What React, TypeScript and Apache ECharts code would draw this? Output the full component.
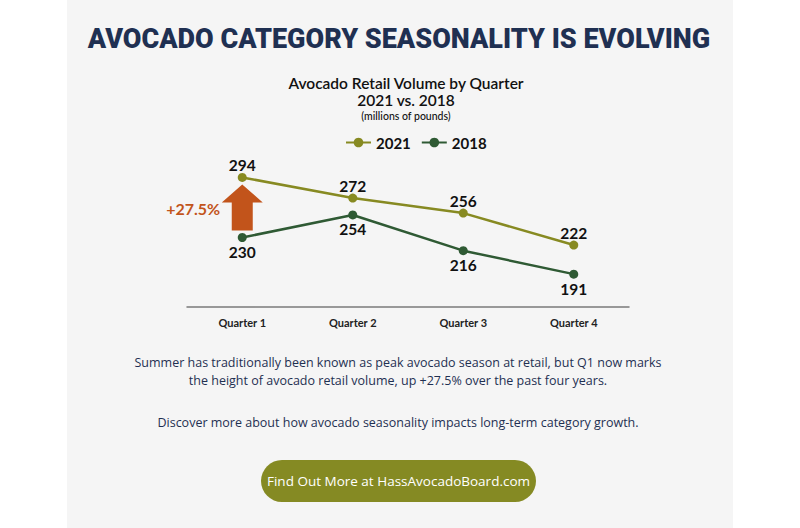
import React, { useEffect, useRef } from "react";
import * as echarts from "echarts";

const categories = ["Quarter 1", "Quarter 2", "Quarter 3", "Quarter 4"];
const values2021 = [294, 272, 256, 222];
const values2018 = [230, 254, 216, 191];
const labelPos2021 = ["top", "top", "top", "top"];
const labelPos2018 = ["bottom", "bottom", "bottom", "bottom"];
const growthLabel = "+27.5%";

const C2021 = "#878a22";
const C2018 = "#2f5a34";
const ORANGE = "#c2541b";
const NAVY = "#1f3052";

export default function App() {
  const ref = useRef<HTMLDivElement>(null);
  useEffect(() => {
    document.body.style.margin = "0";
    const chart = echarts.init(ref.current!, undefined, { renderer: "svg" });
    const labelFont = { fontFamily: "Lato", fontWeight: "bold", fontSize: 15.5, color: "#111" };
    const option: any = {
      animation: false,
      backgroundColor: "#ffffff",
      grid: { left: 187, right: 171, top: 153, bottom: 221 },
      legend: {
        top: 130,
        left: 340,
        itemWidth: 25,
        itemHeight: 12,
        itemGap: 10,
        textStyle: { fontFamily: "Lato", fontWeight: "bold", fontSize: 15, color: "#111" },
        data: ["2021", "2018"],
      },
      xAxis: {
        type: "category",
        data: categories,
        boundaryGap: true,
        axisLine: { lineStyle: { color: "#7a7a7a", width: 1.5 } },
        axisTick: { alignWithLabel: true, length: 6, lineStyle: { color: "#cfcfcf" } },
        axisLabel: { fontFamily: "Lato", fontWeight: "bold", fontSize: 11, color: "#222", margin: 10 },
      },
      yAxis: { type: "value", min: 156, max: 320, show: false, splitLine: { show: false } },
      series: [
        {
          name: "2021",
          type: "line",
          data: values2021.map((v, i) => ({ value: v, label: { position: labelPos2021[i] } })),
          symbol: "circle",
          symbolSize: 9,
          lineStyle: { color: C2021, width: 2.5 },
          itemStyle: { color: C2021 },
          label: { show: true, distance: -0.5, ...labelFont },
          z: 3,
        },
        {
          name: "2018",
          type: "line",
          data: values2018.map((v, i) => ({ value: v, label: { position: labelPos2018[i] } })),
          symbol: "circle",
          symbolSize: 9,
          lineStyle: { color: C2018, width: 2.5 },
          itemStyle: { color: C2018 },
          label: { show: true, distance: 2, ...labelFont },
          z: 3,
        },
      ],
      graphic: [
        { type: "rect", z: -10, shape: { x: 67, y: 0, width: 666, height: 528 }, style: { fill: "#f5f5f5" } },
        {
          type: "text", x: 399, y: 39,
          style: { text: "AVOCADO CATEGORY SEASONALITY IS EVOLVING", fill: NAVY, font: "900 27px Roboto", textAlign: "center", textVerticalAlign: "middle" },
        },
        {
          type: "text", x: 406, y: 83,
          style: { text: "Avocado Retail Volume by Quarter", fill: "#111", font: "600 15.5px Lato", textAlign: "center", textVerticalAlign: "middle" },
        },
        {
          type: "text", x: 406, y: 100,
          style: { text: "2021 vs. 2018", fill: "#111", font: "600 15.5px Lato", textAlign: "center", textVerticalAlign: "middle" },
        },
        {
          type: "text", x: 406, y: 116,
          style: { text: "(millions of pounds)", fill: "#111", font: "500 10.5px Lato", textAlign: "center", textVerticalAlign: "middle" },
        },
        {
          type: "text", x: 398, y: 362,
          style: { text: "Summer has traditionally been known as peak avocado season at retail, but Q1 now marks", fill: NAVY, font: "12.5px 'Open Sans'", textAlign: "center", textVerticalAlign: "middle" },
        },
        {
          type: "text", x: 398, y: 380,
          style: { text: "the height of avocado retail volume, up +27.5% over the past four years.", fill: NAVY, font: "12.5px 'Open Sans'", textAlign: "center", textVerticalAlign: "middle" },
        },
        {
          type: "text", x: 398, y: 422,
          style: { text: "Discover more about how avocado seasonality impacts long-term category growth.", fill: NAVY, font: "12.5px 'Open Sans'", textAlign: "center", textVerticalAlign: "middle" },
        },
        { type: "rect", shape: { x: 261, y: 460, width: 275, height: 42, r: 21 }, style: { fill: "#858a23" } },
        {
          type: "text", x: 398.5, y: 481,
          style: { text: "Find Out More at HassAvocadoBoard.com", fill: "#ffffff", font: "13.5px 'Open Sans'", textAlign: "center", textVerticalAlign: "middle" },
        },
      ],
    };
    chart.setOption(option);

    // Arrow annotation positioned from the data via the chart's scales
    const top = chart.convertToPixel({ gridIndex: 0 }, [0, values2021[0]]) as number[];
    const bot = chart.convertToPixel({ gridIndex: 0 }, [0, values2018[0]]) as number[];
    const cx = top[0];
    const yTop = top[1] + 7;
    const yBot = bot[1] - 7;
    const headH = 18;
    const headW = 20.5;
    const shaftW = 10.5;
    chart.setOption({
      graphic: [
        ...option.graphic,
        {
          type: "polygon",
          z: 1,
          shape: {
            points: [
              [cx, yTop],
              [cx + headW, yTop + headH],
              [cx + shaftW, yTop + headH],
              [cx + shaftW, yBot],
              [cx - shaftW, yBot],
              [cx - shaftW, yTop + headH],
              [cx - headW, yTop + headH],
            ],
          },
          style: { fill: ORANGE },
        },
        {
          type: "text",
          x: cx - 22,
          y: (yTop + yBot) / 2 + 1,
          style: { text: growthLabel, fill: ORANGE, font: "bold 16px Lato", textAlign: "right", textVerticalAlign: "middle" },
        },
      ],
    });
    return () => chart.dispose();
  }, []);
  return <div ref={ref} style={{ width: 800, height: 528 }} />;
}
